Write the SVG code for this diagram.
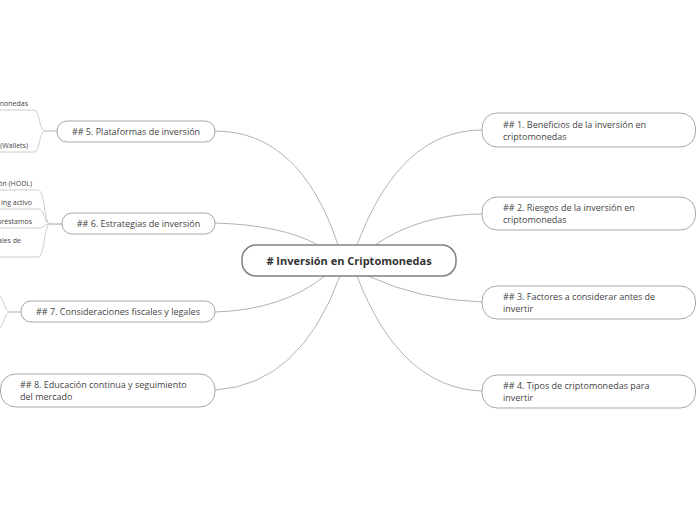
<svg xmlns="http://www.w3.org/2000/svg" width="696" height="520" viewBox="0 0 696 520">
<style>
.bg{fill:#ffffff}
.node rect{fill:#ffffff;stroke:#a6a6a6;stroke-width:1}
.root rect{fill:#ffffff;stroke:#808080;stroke-width:1.5}
.conn path{fill:none;stroke:#b3b3b3;stroke-width:1}
.sub path{fill:none;stroke:#cccccc;stroke-width:1}
text{font-family:"Open Sans","Noto Sans","DejaVu Sans",sans-serif;fill:#454545}
.t9{font-size:9px}
.t7{font-size:7px}
.tc{font-size:11px;font-weight:bold;fill:#333333}
</style>
<rect class="bg" x="0" y="0" width="696" height="520"/>
<g id="connectors" class="conn">
<path d="M215 131 Q300 131 338 245"/>
<path d="M215 223 Q282 225 318 245"/>
<path d="M215 312 Q282 310 325 276"/>
<path d="M215 390 Q300 385 340 276"/>
<path d="M482 130 Q400 130 357 245"/>
<path d="M482 214 Q420 214 375 245"/>
<path d="M482 302 Q420 300 368 276"/>
<path d="M482 391 Q400 388 357 276"/>
</g>
<g id="sub-connectors" class="sub">
<path d="M57 131 L45 131 C39 131 40 110 34 110 L0 110"/>
<path d="M57 131 L45 131 C39 131 40 152 34 152 L0 152"/>
<path d="M62 224 L50 224 C44 224 45 190 38 190 L0 190"/>
<path d="M62 224 L50 224 C44 224 45 209 38 209 L0 209"/>
<path d="M62 224 L50 224 C44 224 45 228 38 228 L0 228"/>
<path d="M62 224 L50 224 C44 224 45 257 38 257 L0 257"/>
<path d="M21 312 L10 312 C5 312 4 300 0 296"/>
<path d="M21 312 L10 312 C5 312 4 324 0 328"/>
</g>
<g id="sub-texts">
<text class="t7" x="28" y="106" text-anchor="end">monedas</text>
<text class="t7" x="28" y="148" text-anchor="end">(Wallets)</text>
<text class="t7" x="32" y="186" text-anchor="end">ón (HODL)</text>
<text class="t7" x="32" y="205" text-anchor="end">ing activo</text>
<text class="t7" x="32" y="224" text-anchor="end">préstamos</text>
<text class="t7" x="21" y="243" text-anchor="end">ales de</text>
</g>
<g id="root" class="root">
<rect x="242" y="245" width="214" height="31" rx="14"/>
<text class="tc" x="349" y="264.5" text-anchor="middle"># Inversión en Criptomonedas</text>
</g>
<g id="n1" class="node">
<rect x="482" y="113" width="213.5" height="34" rx="15"/>
<text class="t9" x="503" y="128">## 1. Beneficios de la inversión en</text>
<text class="t9" x="503" y="140">criptomonedas</text>
</g>
<g id="n2" class="node">
<rect x="482" y="197" width="213.5" height="33" rx="15"/>
<text class="t9" x="503" y="211">## 2. Riesgos de la inversión en</text>
<text class="t9" x="503" y="223">criptomonedas</text>
</g>
<g id="n3" class="node">
<rect x="482" y="286" width="213.5" height="33" rx="15"/>
<text class="t9" x="503" y="300">## 3. Factores a considerar antes de</text>
<text class="t9" x="503" y="312">invertir</text>
</g>
<g id="n4" class="node">
<rect x="482" y="375" width="213.5" height="33" rx="15"/>
<text class="t9" x="503" y="389">## 4. Tipos de criptomonedas para</text>
<text class="t9" x="503" y="401">invertir</text>
</g>
<g id="n5" class="node">
<rect x="57" y="121" width="158" height="21" rx="10"/>
<text class="t9" x="136" y="134.5" text-anchor="middle">## 5. Plataformas de inversión</text>
</g>
<g id="n6" class="node">
<rect x="62" y="213" width="153" height="21" rx="10"/>
<text class="t9" x="138.5" y="227" text-anchor="middle">## 6. Estrategias de inversión</text>
</g>
<g id="n7" class="node">
<rect x="21" y="301" width="194" height="21" rx="10"/>
<text class="t9" x="118" y="315" text-anchor="middle">## 7. Consideraciones fiscales y legales</text>
</g>
<g id="n8" class="node">
<rect x="0.5" y="374" width="214.5" height="33" rx="15"/>
<text class="t9" x="20" y="388">## 8. Educación continua y seguimiento</text>
<text class="t9" x="20" y="400">del mercado</text>
</g>
</svg>
